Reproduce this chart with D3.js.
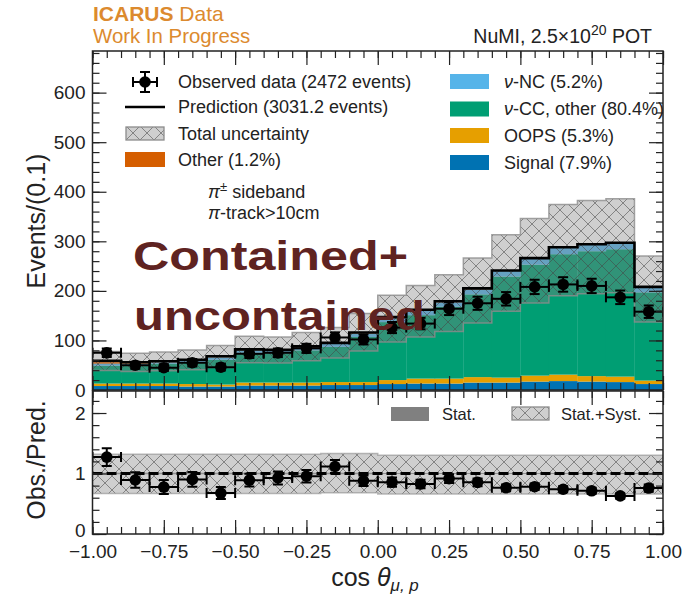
<!DOCTYPE html>
<html><head><meta charset="utf-8">
<script src="https://cdn.jsdelivr.net/npm/d3@7"></script>
<style>body{margin:0;background:#fff}svg text{font-family:"Liberation Sans",Arial,Helvetica,sans-serif}</style>
</head><body>
<svg id="c" width="692" height="600"></svg>
<script>
// ---------- data ----------
const binEdges = [-1.0,-0.9,-0.8,-0.7,-0.6,-0.5,-0.4,-0.3,-0.2,-0.1,0.0,0.1,0.2,0.3,0.4,0.5,0.6,0.7,0.8,0.9,1.0];
const observed = [75,50,45,55,46,73,75,84,106,102,126,134,164,175,184,208,213,210,187,158];
const signal   = [8,8,8,7,7,9,9,9,10,10,12,13,13,15,15,17,18,17,16,12];
const oops     = [5,5,5,5,4,6,6,6,6,6,8,10,10,11,10,12,13,11,11,7];
const ccOther  = [36,37,40,43,50,60,59,65,71,91,117,128,145,167,204,224,243,252,257,178];
const ncEvents = [4,3,3,4,5,5,5,6,6,7,8,9,9,10,11,12,13,13,12,10];
const otherEv  = [6,3,2,2,2,2,2,2,2,2,2,2,2,2,1,1,1,1,1,1];
// fractional total (stat+syst) uncertainty, up / down
const uncUp    = [0.32,0.32,0.32,0.32,0.32,0.32,0.32,0.32,0.33,0.33,0.30,0.30,0.30,0.30,0.30,0.30,0.30,0.30,0.30,0.30];
const uncDown  = [0.33,0.33,0.33,0.33,0.33,0.33,0.33,0.33,0.32,0.32,0.34,0.34,0.34,0.34,0.34,0.34,0.34,0.34,0.34,0.34];
// fractional MC statistical uncertainty
const statFrac = [0.012,0.012,0.012,0.012,0.012,0.012,0.012,0.012,0.012,0.012,0.01,0.01,0.01,0.01,0.01,0.01,0.01,0.01,0.01,0.01];
const xTickLabels = [-1.0,-0.75,-0.5,-0.25,0.0,0.25,0.5,0.75,1.0];
const yTickLabels = [0,100,200,300,400,500,600];
const rTickLabels = [0,1,2];
const stackKeys = ["signal","oops","cc","nc","other"];
const stackColors = {signal:"#0072B2",oops:"#E69F00",cc:"#009E73",nc:"#56B4E9",other:"#D55E00"};

// ---------- layout ----------
const L=92.5, R=663, mT=51, mB=390, rT=391, rB=534;
const svg=d3.select("#c");
const x=d3.scaleLinear().domain([-1,1]).range([L,R]);
const y=d3.scaleLinear().domain([0,684]).range([mB,mT]);
const yr=d3.scaleLinear().domain([0,2.364]).range([rB,rT]);

const rows = observed.map((d,i)=>({lo:binEdges[i],hi:binEdges[i+1],obs:d,
  signal:signal[i],oops:oops[i],cc:ccOther[i],nc:ncEvents[i],other:otherEv[i]}));
const stacked = d3.stack().keys(stackKeys)(rows);
rows.forEach((r,i)=>{ r.pred = stacked[stacked.length-1][i][1]; });

// hatch pattern
const defs=svg.append("defs");
const pat=defs.append("pattern").attr("id","hatch").attr("patternUnits","userSpaceOnUse")
  .attr("width",14).attr("height",14);
pat.append("rect").attr("width",14).attr("height",14).attr("fill","rgba(128,128,128,0.38)");
pat.append("path").attr("d","M0,0L14,14M14,0L0,14M-1,13L1,15M13,-1L15,1")
  .attr("stroke","rgba(70,70,70,0.55)").attr("stroke-width",1);
defs.append("clipPath").attr("id","clipM").append("rect").attr("x",L).attr("y",mT).attr("width",R-L).attr("height",mB-mT);
defs.append("clipPath").attr("id","clipR").append("rect").attr("x",L).attr("y",rT).attr("width",R-L).attr("height",rB-rT);

// ---------- main panel ----------
const gm=svg.append("g").attr("clip-path","url(#clipM)");
stacked.forEach(layer=>{
  gm.append("g").selectAll("rect").data(layer).join("rect")
    .attr("x",d=>x(d.data.lo)).attr("width",d=>x(d.data.hi)-x(d.data.lo)+0.3)
    .attr("y",d=>y(d[1])).attr("height",d=>Math.max(0,y(d[0])-y(d[1])))
    .attr("fill",stackColors[layer.key]);
});
function stepPts(vals){const p=[];rows.forEach((r,i)=>{p.push([x(r.lo),vals[i]]);p.push([x(r.hi),vals[i]]);});return p;}
const upVals=rows.map((r,i)=>y(r.pred*(1+uncUp[i])));
const dnVals=rows.map((r,i)=>y(r.pred*(1-uncDown[i])));
const bandArea=d3.area().x(d=>d[0]).y0(d=>d[2]).y1(d=>d[1]);
const bandPts=[];rows.forEach((r,i)=>{bandPts.push([x(r.lo),upVals[i],dnVals[i]]);bandPts.push([x(r.hi),upVals[i],dnVals[i]]);});
gm.append("path").attr("d",bandArea(bandPts)).attr("fill","url(#hatch)")
  .attr("stroke","#8c8c8c").attr("stroke-width",1.5).attr("stroke-opacity",0.8);
gm.append("path").attr("d",d3.line()(stepPts(rows.map(r=>y(r.pred)))))
  .attr("fill","none").attr("stroke","#000").attr("stroke-width",2.6);
function errBars(g, data, cy, ylo, yhi){
  const gg=g.append("g").attr("stroke","#000").attr("stroke-width",2);
  data.forEach((d,i)=>{
    const cx=(x(d.lo)+x(d.hi))/2, a=x(d.lo), b=x(d.hi), c=cy(d,i);
    gg.append("line").attr("x1",a).attr("x2",b).attr("y1",c).attr("y2",c);
    gg.append("line").attr("x1",a).attr("x2",a).attr("y1",c-5).attr("y2",c+5);
    gg.append("line").attr("x1",b).attr("x2",b).attr("y1",c-5).attr("y2",c+5);
    gg.append("line").attr("x1",cx).attr("x2",cx).attr("y1",ylo(d,i)).attr("y2",yhi(d,i));
    gg.append("line").attr("x1",cx-5).attr("x2",cx+5).attr("y1",ylo(d,i)).attr("y2",ylo(d,i));
    gg.append("line").attr("x1",cx-5).attr("x2",cx+5).attr("y1",yhi(d,i)).attr("y2",yhi(d,i));
    g.append("circle").attr("cx",cx).attr("cy",c).attr("r",5.8).attr("fill","#000");
  });
}
errBars(gm, rows, d=>y(d.obs), d=>y(d.obs-Math.sqrt(d.obs)), d=>y(d.obs+Math.sqrt(d.obs)));

// ---------- ratio panel ----------
const gr=svg.append("g").attr("clip-path","url(#clipR)");
const rBand=[];rows.forEach((r,i)=>{rBand.push([x(r.lo),yr(1+uncUp[i]),yr(1-uncDown[i])]);rBand.push([x(r.hi),yr(1+uncUp[i]),yr(1-uncDown[i])]);});
gr.append("path").attr("d",bandArea(rBand)).attr("fill","url(#hatch)")
  .attr("stroke","#9a9a9a").attr("stroke-width",1.5).attr("stroke-opacity",0.7);
const sBand=[];rows.forEach((r,i)=>{sBand.push([x(r.lo),yr(1+statFrac[i]),yr(1-statFrac[i])]);sBand.push([x(r.hi),yr(1+statFrac[i]),yr(1-statFrac[i])]);});
gr.append("path").attr("d",bandArea(sBand)).attr("fill","#808080").attr("fill-opacity",0.8);
gr.append("line").attr("x1",L).attr("x2",R).attr("y1",yr(1)).attr("y2",yr(1))
  .attr("stroke","#000").attr("stroke-width",2.8).attr("stroke-dasharray","10,4");
errBars(gr, rows, d=>yr(d.obs/d.pred), d=>yr((d.obs-Math.sqrt(d.obs))/d.pred), d=>yr((d.obs+Math.sqrt(d.obs))/d.pred));

// ---------- axes ----------
const TF=19;
function styleAxis(g){g.select(".domain").remove();g.selectAll(".tick line").attr("stroke","#222").attr("stroke-width",1.2);
  g.selectAll("text").attr("font-size",TF).attr("fill","#222").attr("font-family",'"Liberation Sans",Arial,sans-serif');}
function panelAxes(ys, top, bot, major, minor, labelsX, fmtY){
  const xMinor=d3.range(-1,1.0001,0.05);
  const ga=svg.append("g").attr("transform",`translate(${L},0)`).call(d3.axisLeft(ys).tickValues(major).tickSize(-14).tickPadding(7).tickFormat(fmtY)).call(styleAxis);
  svg.append("g").attr("transform",`translate(${L},0)`).call(d3.axisLeft(ys).tickValues(minor).tickSize(-7).tickFormat("")).call(styleAxis);
  svg.append("g").attr("transform",`translate(${R},0)`).call(d3.axisRight(ys).tickValues(major).tickSize(-14).tickFormat("")).call(styleAxis);
  svg.append("g").attr("transform",`translate(${R},0)`).call(d3.axisRight(ys).tickValues(minor).tickSize(-7).tickFormat("")).call(styleAxis);
  svg.append("g").attr("transform",`translate(0,${top})`).call(d3.axisTop(x).tickValues(xTickLabels).tickSize(-14).tickFormat("")).call(styleAxis);
  svg.append("g").attr("transform",`translate(0,${top})`).call(d3.axisTop(x).tickValues(xMinor).tickSize(-7).tickFormat("")).call(styleAxis);
  svg.append("g").attr("transform",`translate(0,${bot})`).call(d3.axisBottom(x).tickValues(xTickLabels).tickSize(-14).tickPadding(11).tickFormat(labelsX?d3.format(".2f"):"")).call(styleAxis);
  svg.append("g").attr("transform",`translate(0,${bot})`).call(d3.axisBottom(x).tickValues(xMinor).tickSize(-7).tickFormat("")).call(styleAxis);
  svg.append("rect").attr("x",L).attr("y",top).attr("width",R-L).attr("height",bot-top)
    .attr("fill","none").attr("stroke","#222").attr("stroke-width",1.5);
  return ga;
}
panelAxes(y,mT,mB,yTickLabels,d3.range(0,684,20),false,d3.format("d"));
const raxis=panelAxes(yr,rT,rB,rTickLabels,d3.range(0,2.36,0.2),true,d3.format("d"));
raxis.selectAll(".tick text").filter(d=>d===0).attr("dy","0.12em");

// ---------- texts ----------
const T=(xx,yy,s,o={})=>{const t=svg.append("text").attr("x",xx).attr("y",yy).attr("font-size",o.fs||18).attr("fill",o.fill||"#222").attr("text-anchor",o.anchor||"start");if(s!==null)t.text(s);return t;};
// header
const h1=T(93,21,null,{fs:21,fill:"#DC8A2E"});
h1.append("tspan").attr("font-weight","bold").text("ICARUS");h1.append("tspan").text(" Data");
T(93,43,"Work In Progress",{fs:20.4,fill:"#DC8A2E"});
const h2=T(652,43,null,{fs:19.5,anchor:"end"});
h2.append("tspan").text("NuMI, 2.5×10");h2.append("tspan").attr("dy",-8).attr("font-size",14).text("20");
h2.append("tspan").attr("dy",8).text(" POT");

// legend left
const lg=svg.append("g");
const lx=145, ly=[82,107,134,160];
lg.append("line").attr("x1",lx-12).attr("x2",lx+12).attr("y1",ly[0]).attr("y2",ly[0]).attr("stroke","#000").attr("stroke-width",2);
lg.append("line").attr("x1",lx).attr("x2",lx).attr("y1",ly[0]-10).attr("y2",ly[0]+10).attr("stroke","#000").attr("stroke-width",2);
[[lx-12,lx-12,ly[0]-5,ly[0]+5],[lx+12,lx+12,ly[0]-5,ly[0]+5],[lx-5,lx+5,ly[0]-10,ly[0]-10],[lx-5,lx+5,ly[0]+10,ly[0]+10]]
  .forEach(c=>lg.append("line").attr("x1",c[0]).attr("x2",c[1]).attr("y1",c[2]).attr("y2",c[3]).attr("stroke","#000").attr("stroke-width",2));
lg.append("circle").attr("cx",lx).attr("cy",ly[0]).attr("r",5.8);
lg.append("line").attr("x1",125).attr("x2",165).attr("y1",ly[1]).attr("y2",ly[1]).attr("stroke","#000").attr("stroke-width",2.6);
lg.append("rect").attr("x",126).attr("y",127).attr("width",38).attr("height",13).attr("fill","url(#hatch)").attr("stroke","#8c8c8c").attr("stroke-width",1.3);
lg.append("rect").attr("x",125).attr("y",152).attr("width",40).attr("height",15).attr("fill",stackColors.other);
T(178,88,"Observed data (2472 events)");
T(178,113,"Prediction (3031.2 events)");
T(178,140,"Total uncertainty");
T(178,166,"Other (1.2%)");
// legend right
const rl=[["nc",74,"-NC (5.2%)",true],["cc",101.5,"-CC, other (80.4%)",true],["oops",128,"OOPS (5.3%)",false],["signal",155,"Signal (7.9%)",false]];
rl.forEach(e=>{
  lg.append("rect").attr("x",450).attr("y",e[1]).attr("width",39).attr("height",15).attr("fill",stackColors[e[0]]);
  const t=T(504,e[1]+13.5,null);
  if(e[3]){t.append("tspan").attr("font-style","italic").text("ν");}
  t.append("tspan").text(e[2]);
});
// selection text
const s1=T(208,198,null,{fs:18});
s1.append("tspan").attr("font-style","italic").text("π");
s1.append("tspan").attr("dy",-7).attr("font-size",13).text("±");
s1.append("tspan").attr("dy",7).text(" sideband");
const s2=T(208,219,null,{fs:18});
s2.append("tspan").attr("font-style","italic").text("π");
s2.append("tspan").text("-track>10cm");

// overlay label
svg.append("text").attr("x",133).attr("y",270).attr("font-family","Lato, 'Open Sans', sans-serif").attr("font-weight",700)
  .attr("font-size",40).attr("fill","#5f2321").attr("textLength",275).attr("lengthAdjust","spacingAndGlyphs").text("Contained+");
svg.append("text").attr("x",134).attr("y",330).attr("font-family","Lato, 'Open Sans', sans-serif").attr("font-weight",700)
  .attr("font-size",40).attr("fill","#5f2321").attr("textLength",291).attr("lengthAdjust","spacingAndGlyphs").text("uncontained");

// ratio legend
lg.append("rect").attr("x",391).attr("y",407).attr("width",38).attr("height",14).attr("fill","#808080");
T(442,420,"Stat.",{fs:16.5});
lg.append("rect").attr("x",512).attr("y",407).attr("width",37).attr("height",13).attr("fill","url(#hatch)").attr("stroke","#8c8c8c").attr("stroke-width",1.3);
T(561,420,"Stat.+Syst.",{fs:16.5});

// axis titles
svg.append("text").attr("transform","translate(45,221) rotate(-90)").attr("text-anchor","middle").attr("font-size",25).attr("fill","#222").text("Events/(0.1)");
svg.append("text").attr("transform","translate(45,460) rotate(-90)").attr("text-anchor","middle").attr("font-size",25).attr("fill","#222").text("Obs./Pred.");
const xt=svg.append("text").attr("x",375).attr("y",586).attr("text-anchor","middle").attr("font-size",25).attr("fill","#222");
xt.append("tspan").text("cos ");
xt.append("tspan").attr("font-style","italic").text("θ");
xt.append("tspan").attr("font-style","italic").attr("font-size",17).attr("dy",5).text("μ, p");
</script>
</body></html>
